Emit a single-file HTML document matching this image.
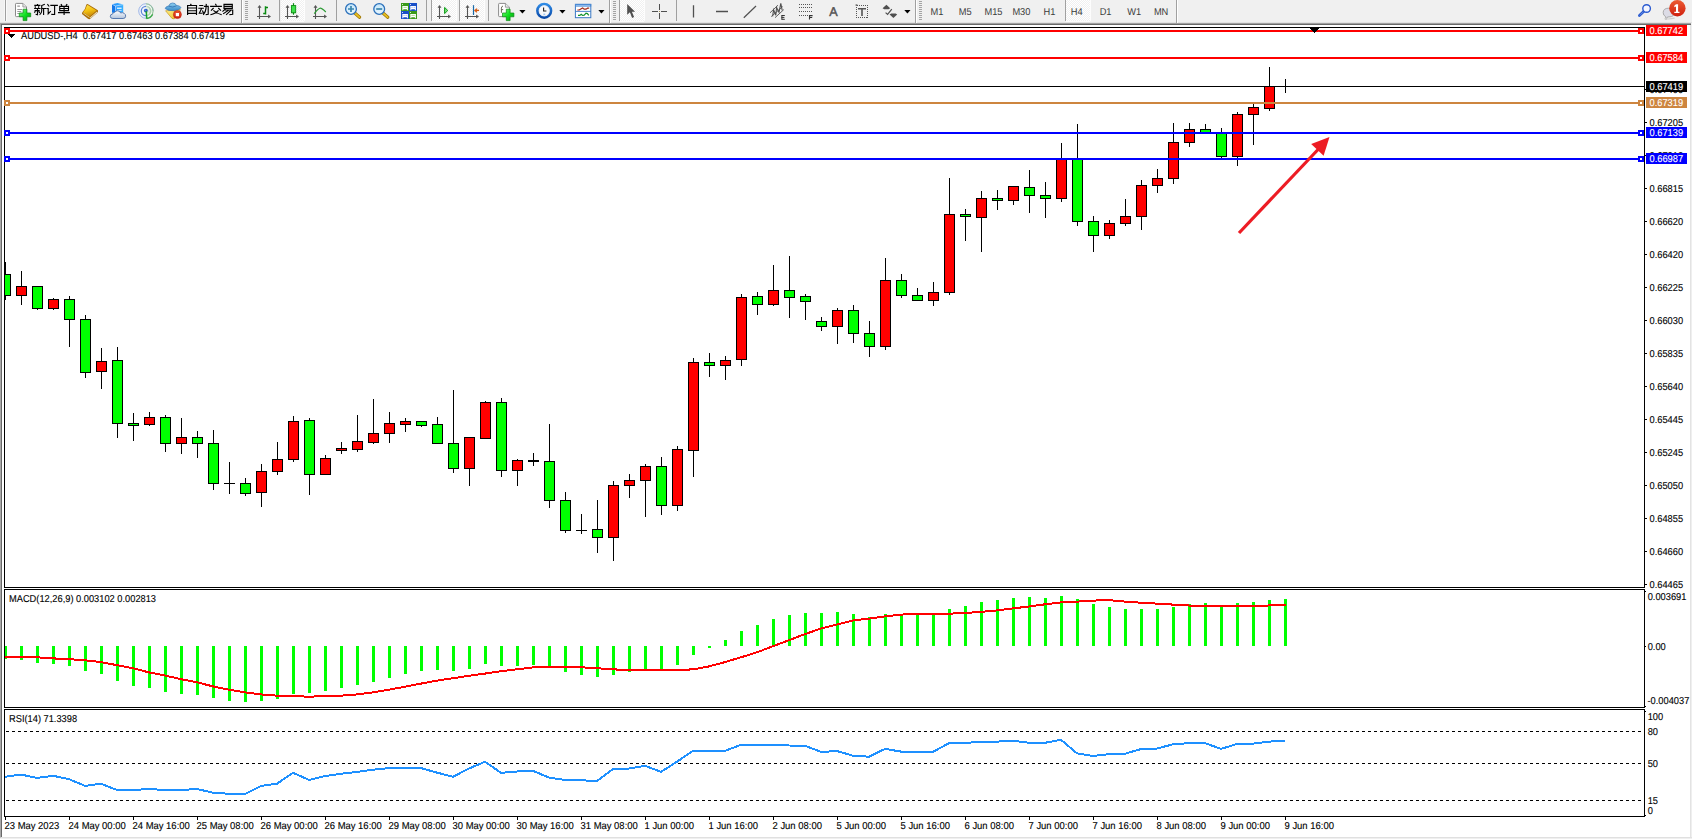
<!DOCTYPE html>
<html><head><meta charset="utf-8"><title>AUDUSD H4</title>
<style>
html,body{margin:0;padding:0;background:#fff;}
body{width:1692px;height:839px;overflow:hidden;position:relative;font-family:"Liberation Sans",sans-serif;}
svg{position:absolute;left:0;top:0;display:block}
#tb{position:absolute;left:0;top:0;width:1692px;height:25px;background:#f0f0f0;}
</style></head><body>
<div id="tb"></div>
<svg id="chart" width="1692" height="839" viewBox="0 0 1692 839" shape-rendering="crispEdges">
<rect x="0" y="25" width="1692" height="814" fill="#ffffff"/>
<rect x="0" y="23" width="1" height="814" fill="#a8a8a8"/>
<rect x="1" y="24" width="1" height="813" fill="#696969"/>
<rect x="1690" y="25" width="1" height="814" fill="#e3e3e3"/>
<rect x="1691" y="25" width="1" height="814" fill="#efefef"/>
<rect x="0" y="837" width="1692" height="1" fill="#e0e0e0"/>
<rect x="0" y="838" width="1692" height="1" fill="#efefef"/>
<rect x="0" y="837" width="1" height="1" fill="#c4c4c4"/>
<rect x="4" y="27" width="1641" height="1" fill="#000"/>
<rect x="4" y="27" width="1" height="790" fill="#000"/>
<rect x="1644" y="27" width="1" height="790" fill="#000"/>
<rect x="4" y="587" width="1641" height="1" fill="#000"/>
<rect x="4" y="589" width="1641" height="1" fill="#000"/>
<rect x="4" y="707" width="1641" height="1" fill="#000"/>
<rect x="4" y="709" width="1641" height="1" fill="#000"/>
<rect x="4" y="816" width="1641" height="1" fill="#000"/>
<rect x="4" y="588" width="1641" height="1" fill="#fff"/>
<rect x="4" y="708" width="1641" height="1" fill="#fff"/>
<rect x="1645" y="815" width="1" height="1" fill="#000"/>
<clipPath id="cm"><rect x="5" y="28" width="1639" height="559"/></clipPath><g clip-path="url(#cm)">
<rect x="5" y="262" width="1" height="38" fill="#000"/>
<rect x="0" y="274" width="11" height="22" fill="#000"/>
<rect x="1" y="275" width="9" height="20" fill="#00ff00"/>
<rect x="21" y="271" width="1" height="34" fill="#000"/>
<rect x="16" y="286" width="11" height="10" fill="#000"/>
<rect x="17" y="287" width="9" height="8" fill="#ff0000"/>
<rect x="37" y="286" width="1" height="24" fill="#000"/>
<rect x="32" y="286" width="11" height="23" fill="#000"/>
<rect x="33" y="287" width="9" height="21" fill="#00ff00"/>
<rect x="53" y="298" width="1" height="12" fill="#000"/>
<rect x="48" y="299" width="11" height="10" fill="#000"/>
<rect x="49" y="300" width="9" height="8" fill="#ff0000"/>
<rect x="69" y="296" width="1" height="51" fill="#000"/>
<rect x="64" y="299" width="11" height="21" fill="#000"/>
<rect x="65" y="300" width="9" height="19" fill="#00ff00"/>
<rect x="85" y="315" width="1" height="63" fill="#000"/>
<rect x="80" y="319" width="11" height="54" fill="#000"/>
<rect x="81" y="320" width="9" height="52" fill="#00ff00"/>
<rect x="101" y="348" width="1" height="41" fill="#000"/>
<rect x="96" y="361" width="11" height="11" fill="#000"/>
<rect x="97" y="362" width="9" height="9" fill="#ff0000"/>
<rect x="117" y="347" width="1" height="91" fill="#000"/>
<rect x="112" y="360" width="11" height="64" fill="#000"/>
<rect x="113" y="361" width="9" height="62" fill="#00ff00"/>
<rect x="133" y="413" width="1" height="28" fill="#000"/>
<rect x="128" y="423" width="11" height="3" fill="#000"/>
<rect x="129" y="424" width="9" height="1" fill="#00ff00"/>
<rect x="149" y="412" width="1" height="14" fill="#000"/>
<rect x="144" y="417" width="11" height="8" fill="#000"/>
<rect x="145" y="418" width="9" height="6" fill="#ff0000"/>
<rect x="165" y="415" width="1" height="37" fill="#000"/>
<rect x="160" y="417" width="11" height="27" fill="#000"/>
<rect x="161" y="418" width="9" height="25" fill="#00ff00"/>
<rect x="181" y="418" width="1" height="36" fill="#000"/>
<rect x="176" y="437" width="11" height="7" fill="#000"/>
<rect x="177" y="438" width="9" height="5" fill="#ff0000"/>
<rect x="197" y="431" width="1" height="27" fill="#000"/>
<rect x="192" y="437" width="11" height="7" fill="#000"/>
<rect x="193" y="438" width="9" height="5" fill="#00ff00"/>
<rect x="213" y="430" width="1" height="60" fill="#000"/>
<rect x="208" y="443" width="11" height="41" fill="#000"/>
<rect x="209" y="444" width="9" height="39" fill="#00ff00"/>
<rect x="229" y="462" width="1" height="32" fill="#000"/>
<rect x="224" y="483" width="11" height="1" fill="#000"/>
<rect x="245" y="478" width="1" height="18" fill="#000"/>
<rect x="240" y="483" width="11" height="11" fill="#000"/>
<rect x="241" y="484" width="9" height="9" fill="#00ff00"/>
<rect x="261" y="464" width="1" height="43" fill="#000"/>
<rect x="256" y="471" width="11" height="22" fill="#000"/>
<rect x="257" y="472" width="9" height="20" fill="#ff0000"/>
<rect x="277" y="442" width="1" height="33" fill="#000"/>
<rect x="272" y="459" width="11" height="13" fill="#000"/>
<rect x="273" y="460" width="9" height="11" fill="#ff0000"/>
<rect x="293" y="416" width="1" height="46" fill="#000"/>
<rect x="288" y="421" width="11" height="39" fill="#000"/>
<rect x="289" y="422" width="9" height="37" fill="#ff0000"/>
<rect x="309" y="418" width="1" height="77" fill="#000"/>
<rect x="304" y="420" width="11" height="55" fill="#000"/>
<rect x="305" y="421" width="9" height="53" fill="#00ff00"/>
<rect x="325" y="455" width="1" height="20" fill="#000"/>
<rect x="320" y="458" width="11" height="17" fill="#000"/>
<rect x="321" y="459" width="9" height="15" fill="#ff0000"/>
<rect x="341" y="442" width="1" height="12" fill="#000"/>
<rect x="336" y="448" width="11" height="3" fill="#000"/>
<rect x="337" y="449" width="9" height="1" fill="#ff0000"/>
<rect x="357" y="415" width="1" height="37" fill="#000"/>
<rect x="352" y="441" width="11" height="9" fill="#000"/>
<rect x="353" y="442" width="9" height="7" fill="#ff0000"/>
<rect x="373" y="399" width="1" height="45" fill="#000"/>
<rect x="368" y="433" width="11" height="10" fill="#000"/>
<rect x="369" y="434" width="9" height="8" fill="#ff0000"/>
<rect x="389" y="412" width="1" height="31" fill="#000"/>
<rect x="384" y="423" width="11" height="11" fill="#000"/>
<rect x="385" y="424" width="9" height="9" fill="#ff0000"/>
<rect x="405" y="418" width="1" height="14" fill="#000"/>
<rect x="400" y="421" width="11" height="4" fill="#000"/>
<rect x="401" y="422" width="9" height="2" fill="#ff0000"/>
<rect x="421" y="421" width="1" height="6" fill="#000"/>
<rect x="416" y="421" width="11" height="5" fill="#000"/>
<rect x="417" y="422" width="9" height="3" fill="#00ff00"/>
<rect x="437" y="417" width="1" height="27" fill="#000"/>
<rect x="432" y="424" width="11" height="20" fill="#000"/>
<rect x="433" y="425" width="9" height="18" fill="#00ff00"/>
<rect x="453" y="390" width="1" height="83" fill="#000"/>
<rect x="448" y="443" width="11" height="26" fill="#000"/>
<rect x="449" y="444" width="9" height="24" fill="#00ff00"/>
<rect x="469" y="437" width="1" height="49" fill="#000"/>
<rect x="464" y="437" width="11" height="32" fill="#000"/>
<rect x="465" y="438" width="9" height="30" fill="#ff0000"/>
<rect x="485" y="401" width="1" height="38" fill="#000"/>
<rect x="480" y="402" width="11" height="37" fill="#000"/>
<rect x="481" y="403" width="9" height="35" fill="#ff0000"/>
<rect x="501" y="398" width="1" height="79" fill="#000"/>
<rect x="496" y="402" width="11" height="69" fill="#000"/>
<rect x="497" y="403" width="9" height="67" fill="#00ff00"/>
<rect x="517" y="459" width="1" height="27" fill="#000"/>
<rect x="512" y="460" width="11" height="11" fill="#000"/>
<rect x="513" y="461" width="9" height="9" fill="#ff0000"/>
<rect x="533" y="453" width="1" height="13" fill="#000"/>
<rect x="528" y="460" width="11" height="2" fill="#000"/>
<rect x="549" y="424" width="1" height="84" fill="#000"/>
<rect x="544" y="461" width="11" height="40" fill="#000"/>
<rect x="545" y="462" width="9" height="38" fill="#00ff00"/>
<rect x="565" y="492" width="1" height="41" fill="#000"/>
<rect x="560" y="500" width="11" height="31" fill="#000"/>
<rect x="561" y="501" width="9" height="29" fill="#00ff00"/>
<rect x="581" y="514" width="1" height="20" fill="#000"/>
<rect x="576" y="530" width="11" height="1" fill="#000"/>
<rect x="597" y="500" width="1" height="53" fill="#000"/>
<rect x="592" y="529" width="11" height="9" fill="#000"/>
<rect x="593" y="530" width="9" height="7" fill="#00ff00"/>
<rect x="613" y="481" width="1" height="80" fill="#000"/>
<rect x="608" y="485" width="11" height="53" fill="#000"/>
<rect x="609" y="486" width="9" height="51" fill="#ff0000"/>
<rect x="629" y="474" width="1" height="24" fill="#000"/>
<rect x="624" y="480" width="11" height="6" fill="#000"/>
<rect x="625" y="481" width="9" height="4" fill="#ff0000"/>
<rect x="645" y="464" width="1" height="53" fill="#000"/>
<rect x="640" y="466" width="11" height="15" fill="#000"/>
<rect x="641" y="467" width="9" height="13" fill="#ff0000"/>
<rect x="661" y="457" width="1" height="58" fill="#000"/>
<rect x="656" y="466" width="11" height="40" fill="#000"/>
<rect x="657" y="467" width="9" height="38" fill="#00ff00"/>
<rect x="677" y="446" width="1" height="65" fill="#000"/>
<rect x="672" y="449" width="11" height="57" fill="#000"/>
<rect x="673" y="450" width="9" height="55" fill="#ff0000"/>
<rect x="693" y="358" width="1" height="119" fill="#000"/>
<rect x="688" y="362" width="11" height="89" fill="#000"/>
<rect x="689" y="363" width="9" height="87" fill="#ff0000"/>
<rect x="709" y="353" width="1" height="24" fill="#000"/>
<rect x="704" y="362" width="11" height="4" fill="#000"/>
<rect x="705" y="363" width="9" height="2" fill="#00ff00"/>
<rect x="725" y="356" width="1" height="24" fill="#000"/>
<rect x="720" y="360" width="11" height="6" fill="#000"/>
<rect x="721" y="361" width="9" height="4" fill="#ff0000"/>
<rect x="741" y="294" width="1" height="72" fill="#000"/>
<rect x="736" y="297" width="11" height="63" fill="#000"/>
<rect x="737" y="298" width="9" height="61" fill="#ff0000"/>
<rect x="757" y="292" width="1" height="23" fill="#000"/>
<rect x="752" y="296" width="11" height="9" fill="#000"/>
<rect x="753" y="297" width="9" height="7" fill="#00ff00"/>
<rect x="773" y="265" width="1" height="41" fill="#000"/>
<rect x="768" y="290" width="11" height="15" fill="#000"/>
<rect x="769" y="291" width="9" height="13" fill="#ff0000"/>
<rect x="789" y="256" width="1" height="62" fill="#000"/>
<rect x="784" y="290" width="11" height="8" fill="#000"/>
<rect x="785" y="291" width="9" height="6" fill="#00ff00"/>
<rect x="805" y="294" width="1" height="26" fill="#000"/>
<rect x="800" y="296" width="11" height="6" fill="#000"/>
<rect x="801" y="297" width="9" height="4" fill="#00ff00"/>
<rect x="821" y="317" width="1" height="14" fill="#000"/>
<rect x="816" y="321" width="11" height="6" fill="#000"/>
<rect x="817" y="322" width="9" height="4" fill="#00ff00"/>
<rect x="837" y="308" width="1" height="36" fill="#000"/>
<rect x="832" y="310" width="11" height="17" fill="#000"/>
<rect x="833" y="311" width="9" height="15" fill="#ff0000"/>
<rect x="853" y="305" width="1" height="38" fill="#000"/>
<rect x="848" y="310" width="11" height="24" fill="#000"/>
<rect x="849" y="311" width="9" height="22" fill="#00ff00"/>
<rect x="869" y="321" width="1" height="36" fill="#000"/>
<rect x="864" y="333" width="11" height="14" fill="#000"/>
<rect x="865" y="334" width="9" height="12" fill="#00ff00"/>
<rect x="885" y="258" width="1" height="92" fill="#000"/>
<rect x="880" y="280" width="11" height="67" fill="#000"/>
<rect x="881" y="281" width="9" height="65" fill="#ff0000"/>
<rect x="901" y="274" width="1" height="24" fill="#000"/>
<rect x="896" y="280" width="11" height="16" fill="#000"/>
<rect x="897" y="281" width="9" height="14" fill="#00ff00"/>
<rect x="917" y="288" width="1" height="13" fill="#000"/>
<rect x="912" y="295" width="11" height="6" fill="#000"/>
<rect x="913" y="296" width="9" height="4" fill="#00ff00"/>
<rect x="933" y="282" width="1" height="24" fill="#000"/>
<rect x="928" y="292" width="11" height="9" fill="#000"/>
<rect x="929" y="293" width="9" height="7" fill="#ff0000"/>
<rect x="949" y="178" width="1" height="117" fill="#000"/>
<rect x="944" y="214" width="11" height="79" fill="#000"/>
<rect x="945" y="215" width="9" height="77" fill="#ff0000"/>
<rect x="965" y="209" width="1" height="32" fill="#000"/>
<rect x="960" y="214" width="11" height="3" fill="#000"/>
<rect x="961" y="215" width="9" height="1" fill="#00ff00"/>
<rect x="981" y="191" width="1" height="61" fill="#000"/>
<rect x="976" y="198" width="11" height="20" fill="#000"/>
<rect x="977" y="199" width="9" height="18" fill="#ff0000"/>
<rect x="997" y="190" width="1" height="20" fill="#000"/>
<rect x="992" y="198" width="11" height="3" fill="#000"/>
<rect x="993" y="199" width="9" height="1" fill="#00ff00"/>
<rect x="1013" y="186" width="1" height="19" fill="#000"/>
<rect x="1008" y="186" width="11" height="15" fill="#000"/>
<rect x="1009" y="187" width="9" height="13" fill="#ff0000"/>
<rect x="1029" y="170" width="1" height="43" fill="#000"/>
<rect x="1024" y="187" width="11" height="9" fill="#000"/>
<rect x="1025" y="188" width="9" height="7" fill="#00ff00"/>
<rect x="1045" y="182" width="1" height="36" fill="#000"/>
<rect x="1040" y="195" width="11" height="4" fill="#000"/>
<rect x="1041" y="196" width="9" height="2" fill="#00ff00"/>
<rect x="1061" y="143" width="1" height="59" fill="#000"/>
<rect x="1056" y="158" width="11" height="41" fill="#000"/>
<rect x="1057" y="159" width="9" height="39" fill="#ff0000"/>
<rect x="1077" y="124" width="1" height="102" fill="#000"/>
<rect x="1072" y="158" width="11" height="64" fill="#000"/>
<rect x="1073" y="159" width="9" height="62" fill="#00ff00"/>
<rect x="1093" y="216" width="1" height="36" fill="#000"/>
<rect x="1088" y="221" width="11" height="15" fill="#000"/>
<rect x="1089" y="222" width="9" height="13" fill="#00ff00"/>
<rect x="1109" y="220" width="1" height="19" fill="#000"/>
<rect x="1104" y="223" width="11" height="13" fill="#000"/>
<rect x="1105" y="224" width="9" height="11" fill="#ff0000"/>
<rect x="1125" y="199" width="1" height="27" fill="#000"/>
<rect x="1120" y="216" width="11" height="8" fill="#000"/>
<rect x="1121" y="217" width="9" height="6" fill="#ff0000"/>
<rect x="1141" y="180" width="1" height="50" fill="#000"/>
<rect x="1136" y="185" width="11" height="32" fill="#000"/>
<rect x="1137" y="186" width="9" height="30" fill="#ff0000"/>
<rect x="1157" y="169" width="1" height="24" fill="#000"/>
<rect x="1152" y="178" width="11" height="8" fill="#000"/>
<rect x="1153" y="179" width="9" height="6" fill="#ff0000"/>
<rect x="1173" y="123" width="1" height="61" fill="#000"/>
<rect x="1168" y="142" width="11" height="37" fill="#000"/>
<rect x="1169" y="143" width="9" height="35" fill="#ff0000"/>
<rect x="1189" y="123" width="1" height="24" fill="#000"/>
<rect x="1184" y="129" width="11" height="14" fill="#000"/>
<rect x="1185" y="130" width="9" height="12" fill="#ff0000"/>
<rect x="1205" y="124" width="1" height="9" fill="#000"/>
<rect x="1200" y="129" width="11" height="4" fill="#000"/>
<rect x="1201" y="130" width="9" height="2" fill="#00ff00"/>
<rect x="1221" y="128" width="1" height="31" fill="#000"/>
<rect x="1216" y="132" width="11" height="25" fill="#000"/>
<rect x="1217" y="133" width="9" height="23" fill="#00ff00"/>
<rect x="1237" y="112" width="1" height="54" fill="#000"/>
<rect x="1232" y="114" width="11" height="43" fill="#000"/>
<rect x="1233" y="115" width="9" height="41" fill="#ff0000"/>
<rect x="1253" y="104" width="1" height="41" fill="#000"/>
<rect x="1248" y="107" width="11" height="8" fill="#000"/>
<rect x="1249" y="108" width="9" height="6" fill="#ff0000"/>
<rect x="1269" y="67" width="1" height="44" fill="#000"/>
<rect x="1264" y="86" width="11" height="23" fill="#000"/>
<rect x="1265" y="87" width="9" height="21" fill="#ff0000"/>
<rect x="1285" y="79" width="1" height="14" fill="#000"/>
<rect x="1280" y="86" width="11" height="1" fill="#000"/>
</g>
<rect x="5" y="86" width="1639" height="1" fill="#000"/>
<rect x="5" y="30" width="1639" height="2" fill="#ff0000"/>
<rect x="4" y="28" width="6" height="6" fill="#ff0000"/>
<rect x="6" y="30" width="2" height="2" fill="#fff"/>
<rect x="1638" y="28" width="6" height="6" fill="#ff0000"/>
<rect x="1640" y="30" width="2" height="2" fill="#fff"/>
<rect x="5" y="57" width="1639" height="2" fill="#ff0000"/>
<rect x="4" y="55" width="6" height="6" fill="#ff0000"/>
<rect x="6" y="57" width="2" height="2" fill="#fff"/>
<rect x="1638" y="55" width="6" height="6" fill="#ff0000"/>
<rect x="1640" y="57" width="2" height="2" fill="#fff"/>
<rect x="5" y="102" width="1639" height="2" fill="#cd853f"/>
<rect x="4" y="100" width="6" height="6" fill="#cd853f"/>
<rect x="6" y="102" width="2" height="2" fill="#fff"/>
<rect x="1638" y="100" width="6" height="6" fill="#cd853f"/>
<rect x="1640" y="102" width="2" height="2" fill="#fff"/>
<rect x="5" y="132" width="1639" height="2" fill="#0000ff"/>
<rect x="4" y="130" width="6" height="6" fill="#0000ff"/>
<rect x="6" y="132" width="2" height="2" fill="#fff"/>
<rect x="1638" y="130" width="6" height="6" fill="#0000ff"/>
<rect x="1640" y="132" width="2" height="2" fill="#fff"/>
<rect x="5" y="158" width="1639" height="2" fill="#0000ff"/>
<rect x="4" y="156" width="6" height="6" fill="#0000ff"/>
<rect x="6" y="158" width="2" height="2" fill="#fff"/>
<rect x="1638" y="156" width="6" height="6" fill="#0000ff"/>
<rect x="1640" y="158" width="2" height="2" fill="#fff"/>
<rect x="1310" y="28" width="9" height="1" fill="#000"/>
<rect x="1311" y="29" width="7" height="1" fill="#000"/>
<rect x="1312" y="30" width="5" height="1" fill="#000"/>
<rect x="1313" y="31" width="3" height="1" fill="#000"/>
<rect x="1314" y="32" width="1" height="1" fill="#000"/>
<rect x="8" y="34" width="7" height="1" fill="#000"/>
<rect x="9" y="35" width="5" height="1" fill="#000"/>
<rect x="10" y="36" width="3" height="1" fill="#000"/>
<rect x="11" y="37" width="1" height="1" fill="#000"/>
<g shape-rendering="auto"><line x1="1239" y1="233" x2="1319" y2="148.5" stroke="#ed1c24" stroke-width="3.2"/><polygon points="1329.5,137 1311.2,144 1323.6,155.8" fill="#ed1c24"/></g>
<clipPath id="c2"><rect x="5" y="590" width="1639" height="117"/></clipPath><g clip-path="url(#c2)">
<rect x="4" y="646" width="3" height="13" fill="#00ff00"/>
<rect x="20" y="646" width="3" height="14" fill="#00ff00"/>
<rect x="36" y="646" width="3" height="17" fill="#00ff00"/>
<rect x="52" y="646" width="3" height="18" fill="#00ff00"/>
<rect x="68" y="646" width="3" height="20" fill="#00ff00"/>
<rect x="84" y="646" width="3" height="25" fill="#00ff00"/>
<rect x="100" y="646" width="3" height="28" fill="#00ff00"/>
<rect x="116" y="646" width="3" height="35" fill="#00ff00"/>
<rect x="132" y="646" width="3" height="40" fill="#00ff00"/>
<rect x="148" y="646" width="3" height="42" fill="#00ff00"/>
<rect x="164" y="646" width="3" height="46" fill="#00ff00"/>
<rect x="180" y="646" width="3" height="48" fill="#00ff00"/>
<rect x="196" y="646" width="3" height="49" fill="#00ff00"/>
<rect x="212" y="646" width="3" height="52" fill="#00ff00"/>
<rect x="228" y="646" width="3" height="55" fill="#00ff00"/>
<rect x="244" y="646" width="3" height="56" fill="#00ff00"/>
<rect x="260" y="646" width="3" height="55" fill="#00ff00"/>
<rect x="276" y="646" width="3" height="53" fill="#00ff00"/>
<rect x="292" y="646" width="3" height="48" fill="#00ff00"/>
<rect x="308" y="646" width="3" height="47" fill="#00ff00"/>
<rect x="324" y="646" width="3" height="45" fill="#00ff00"/>
<rect x="340" y="646" width="3" height="42" fill="#00ff00"/>
<rect x="356" y="646" width="3" height="39" fill="#00ff00"/>
<rect x="372" y="646" width="3" height="36" fill="#00ff00"/>
<rect x="388" y="646" width="3" height="32" fill="#00ff00"/>
<rect x="404" y="646" width="3" height="28" fill="#00ff00"/>
<rect x="420" y="646" width="3" height="25" fill="#00ff00"/>
<rect x="436" y="646" width="3" height="24" fill="#00ff00"/>
<rect x="452" y="646" width="3" height="25" fill="#00ff00"/>
<rect x="468" y="646" width="3" height="23" fill="#00ff00"/>
<rect x="484" y="646" width="3" height="18" fill="#00ff00"/>
<rect x="500" y="646" width="3" height="20" fill="#00ff00"/>
<rect x="516" y="646" width="3" height="20" fill="#00ff00"/>
<rect x="532" y="646" width="3" height="19" fill="#00ff00"/>
<rect x="548" y="646" width="3" height="21" fill="#00ff00"/>
<rect x="564" y="646" width="3" height="26" fill="#00ff00"/>
<rect x="580" y="646" width="3" height="29" fill="#00ff00"/>
<rect x="596" y="646" width="3" height="31" fill="#00ff00"/>
<rect x="612" y="646" width="3" height="29" fill="#00ff00"/>
<rect x="628" y="646" width="3" height="26" fill="#00ff00"/>
<rect x="644" y="646" width="3" height="24" fill="#00ff00"/>
<rect x="660" y="646" width="3" height="24" fill="#00ff00"/>
<rect x="676" y="646" width="3" height="19" fill="#00ff00"/>
<rect x="692" y="646" width="3" height="9" fill="#00ff00"/>
<rect x="708" y="646" width="3" height="2" fill="#00ff00"/>
<rect x="724" y="640" width="3" height="6" fill="#00ff00"/>
<rect x="740" y="631" width="3" height="15" fill="#00ff00"/>
<rect x="756" y="625" width="3" height="21" fill="#00ff00"/>
<rect x="772" y="619" width="3" height="27" fill="#00ff00"/>
<rect x="788" y="615" width="3" height="31" fill="#00ff00"/>
<rect x="804" y="613" width="3" height="33" fill="#00ff00"/>
<rect x="820" y="613" width="3" height="33" fill="#00ff00"/>
<rect x="836" y="612" width="3" height="34" fill="#00ff00"/>
<rect x="852" y="614" width="3" height="32" fill="#00ff00"/>
<rect x="868" y="617" width="3" height="29" fill="#00ff00"/>
<rect x="884" y="614" width="3" height="32" fill="#00ff00"/>
<rect x="900" y="614" width="3" height="32" fill="#00ff00"/>
<rect x="916" y="614" width="3" height="32" fill="#00ff00"/>
<rect x="932" y="614" width="3" height="32" fill="#00ff00"/>
<rect x="948" y="609" width="3" height="37" fill="#00ff00"/>
<rect x="964" y="606" width="3" height="40" fill="#00ff00"/>
<rect x="980" y="602" width="3" height="44" fill="#00ff00"/>
<rect x="996" y="600" width="3" height="46" fill="#00ff00"/>
<rect x="1012" y="598" width="3" height="48" fill="#00ff00"/>
<rect x="1028" y="597" width="3" height="49" fill="#00ff00"/>
<rect x="1044" y="598" width="3" height="48" fill="#00ff00"/>
<rect x="1060" y="596" width="3" height="50" fill="#00ff00"/>
<rect x="1076" y="599" width="3" height="47" fill="#00ff00"/>
<rect x="1092" y="604" width="3" height="42" fill="#00ff00"/>
<rect x="1108" y="607" width="3" height="39" fill="#00ff00"/>
<rect x="1124" y="609" width="3" height="37" fill="#00ff00"/>
<rect x="1140" y="609" width="3" height="37" fill="#00ff00"/>
<rect x="1156" y="609" width="3" height="37" fill="#00ff00"/>
<rect x="1172" y="607" width="3" height="39" fill="#00ff00"/>
<rect x="1188" y="604" width="3" height="42" fill="#00ff00"/>
<rect x="1204" y="603" width="3" height="43" fill="#00ff00"/>
<rect x="1220" y="606" width="3" height="40" fill="#00ff00"/>
<rect x="1236" y="603" width="3" height="43" fill="#00ff00"/>
<rect x="1252" y="602" width="3" height="44" fill="#00ff00"/>
<rect x="1268" y="600" width="3" height="46" fill="#00ff00"/>
<rect x="1284" y="599" width="3" height="47" fill="#00ff00"/>
<polyline fill="none" stroke="#ff0000" stroke-width="2" points="5,657.3 37,657.3 53,658.4 69,659.1 85,660.3 101,662.1 117,665.2 133,668.2 149,672.4 165,675.5 181,679.2 197,682.3 213,686.4 229,689.7 245,692.4 261,694.4 277,695.7 293,696.3 309,696.6 325,696.3 341,695.7 357,694.4 373,692.4 389,689.7 405,686.7 421,683.6 437,680.6 453,678.2 469,675.8 485,673.6 501,671.2 517,669.3 533,667.4 549,666.8 565,666.8 581,667.3 597,668.2 613,669.4 629,669.9 645,669.9 661,669.9 677,669.9 693,669.4 709,666.4 725,662.1 741,657.3 757,652.3 773,646.2 789,640.2 805,634.1 821,628.5 837,624.6 853,620.5 869,618.6 885,616.4 901,614.6 917,614.0 933,614.0 949,613.7 965,613.0 981,611.9 997,610.4 1013,608.4 1029,606.5 1045,604.3 1061,602.4 1077,601.6 1093,600.9 1101,599.9 1109,600.1 1125,601.6 1141,602.7 1157,603.6 1173,604.6 1189,605.5 1205,606.0 1221,606.0 1237,606.0 1253,606.0 1266,606.0 1270,604.9 1286,604.9"/>
</g>
<line x1="6" y1="731.5" x2="1644" y2="731.5" stroke="#000" stroke-width="1" stroke-dasharray="3 3"/>
<line x1="6" y1="763.5" x2="1644" y2="763.5" stroke="#000" stroke-width="1" stroke-dasharray="3 3"/>
<line x1="6" y1="800.5" x2="1644" y2="800.5" stroke="#000" stroke-width="1" stroke-dasharray="3 3"/>
<polyline fill="none" stroke="#1e90ff" stroke-width="2" points="5,776.8 21,774.6 37,777.9 53,775.8 69,779.1 85,785.9 101,783.7 117,790.0 133,790.0 149,789.0 165,790.0 181,790.0 197,789.0 213,792.7 229,793.8 245,793.9 261,785.9 277,783.7 293,772.8 309,779.9 325,776.1 341,773.8 357,771.9 373,769.7 389,768.1 405,767.8 421,768.1 437,772.6 453,776.8 469,768.5 485,761.7 501,772.8 517,771.5 533,770.8 549,777.6 565,779.9 581,780.3 597,780.9 613,769.0 629,768.5 645,765.8 661,771.9 677,761.7 693,750.8 709,750.8 725,750.8 741,744.8 757,744.8 773,744.8 789,745.5 805,745.8 821,751.9 837,751.1 853,755.7 869,756.7 885,748.9 901,751.6 917,751.9 933,751.9 949,743.1 965,743.1 981,741.6 997,741.6 1013,740.7 1029,742.8 1045,742.8 1061,739.8 1077,753.4 1093,756.0 1109,754.1 1125,753.7 1141,749.1 1157,748.5 1173,744.3 1189,743.1 1205,743.1 1221,748.9 1237,744.0 1253,743.6 1269,741.6 1285,740.7"/>
<rect x="5" y="817" width="1" height="3" fill="#000"/>
<rect x="69" y="817" width="1" height="3" fill="#000"/>
<rect x="133" y="817" width="1" height="3" fill="#000"/>
<rect x="197" y="817" width="1" height="3" fill="#000"/>
<rect x="261" y="817" width="1" height="3" fill="#000"/>
<rect x="325" y="817" width="1" height="3" fill="#000"/>
<rect x="389" y="817" width="1" height="3" fill="#000"/>
<rect x="453" y="817" width="1" height="3" fill="#000"/>
<rect x="517" y="817" width="1" height="3" fill="#000"/>
<rect x="581" y="817" width="1" height="3" fill="#000"/>
<rect x="645" y="817" width="1" height="3" fill="#000"/>
<rect x="709" y="817" width="1" height="3" fill="#000"/>
<rect x="773" y="817" width="1" height="3" fill="#000"/>
<rect x="837" y="817" width="1" height="3" fill="#000"/>
<rect x="901" y="817" width="1" height="3" fill="#000"/>
<rect x="965" y="817" width="1" height="3" fill="#000"/>
<rect x="1029" y="817" width="1" height="3" fill="#000"/>
<rect x="1093" y="817" width="1" height="3" fill="#000"/>
<rect x="1157" y="817" width="1" height="3" fill="#000"/>
<rect x="1221" y="817" width="1" height="3" fill="#000"/>
<rect x="1285" y="817" width="1" height="3" fill="#000"/>
</svg>
<svg id="txt" text-rendering="geometricPrecision" width="1692" height="839" viewBox="0 0 1692 839" style="font-family:'Liberation Sans',sans-serif;font-size:10px;letter-spacing:0px">
<text transform="translate(4.5,829) scale(0.945,1)" fill="#000" stroke="#000" stroke-width="0.12">23 May 2023</text>
<text transform="translate(68.5,829) scale(0.945,1)" fill="#000" stroke="#000" stroke-width="0.12">24 May 00:00</text>
<text transform="translate(132.5,829) scale(0.945,1)" fill="#000" stroke="#000" stroke-width="0.12">24 May 16:00</text>
<text transform="translate(196.5,829) scale(0.945,1)" fill="#000" stroke="#000" stroke-width="0.12">25 May 08:00</text>
<text transform="translate(260.5,829) scale(0.945,1)" fill="#000" stroke="#000" stroke-width="0.12">26 May 00:00</text>
<text transform="translate(324.5,829) scale(0.945,1)" fill="#000" stroke="#000" stroke-width="0.12">26 May 16:00</text>
<text transform="translate(388.5,829) scale(0.945,1)" fill="#000" stroke="#000" stroke-width="0.12">29 May 08:00</text>
<text transform="translate(452.5,829) scale(0.945,1)" fill="#000" stroke="#000" stroke-width="0.12">30 May 00:00</text>
<text transform="translate(516.5,829) scale(0.945,1)" fill="#000" stroke="#000" stroke-width="0.12">30 May 16:00</text>
<text transform="translate(580.5,829) scale(0.945,1)" fill="#000" stroke="#000" stroke-width="0.12">31 May 08:00</text>
<text transform="translate(644.5,829) scale(0.945,1)" fill="#000" stroke="#000" stroke-width="0.12">1 Jun 00:00</text>
<text transform="translate(708.5,829) scale(0.945,1)" fill="#000" stroke="#000" stroke-width="0.12">1 Jun 16:00</text>
<text transform="translate(772.5,829) scale(0.945,1)" fill="#000" stroke="#000" stroke-width="0.12">2 Jun 08:00</text>
<text transform="translate(836.5,829) scale(0.945,1)" fill="#000" stroke="#000" stroke-width="0.12">5 Jun 00:00</text>
<text transform="translate(900.5,829) scale(0.945,1)" fill="#000" stroke="#000" stroke-width="0.12">5 Jun 16:00</text>
<text transform="translate(964.5,829) scale(0.945,1)" fill="#000" stroke="#000" stroke-width="0.12">6 Jun 08:00</text>
<text transform="translate(1028.5,829) scale(0.945,1)" fill="#000" stroke="#000" stroke-width="0.12">7 Jun 00:00</text>
<text transform="translate(1092.5,829) scale(0.945,1)" fill="#000" stroke="#000" stroke-width="0.12">7 Jun 16:00</text>
<text transform="translate(1156.5,829) scale(0.945,1)" fill="#000" stroke="#000" stroke-width="0.12">8 Jun 08:00</text>
<text transform="translate(1220.5,829) scale(0.945,1)" fill="#000" stroke="#000" stroke-width="0.12">9 Jun 00:00</text>
<text transform="translate(1284.5,829) scale(0.945,1)" fill="#000" stroke="#000" stroke-width="0.12">9 Jun 16:00</text>
<text transform="translate(21,39) scale(0.928,1)" fill="#000" stroke="#000" stroke-width="0.12">AUDUSD-,H4&#160; 0.67417 0.67463 0.67384 0.67419</text>
<text transform="translate(9,602) scale(0.928,1)" fill="#000" stroke="#000" stroke-width="0.12">MACD(12,26,9) 0.003102 0.002813</text>
<text transform="translate(9,722) scale(0.928,1)" fill="#000" stroke="#000" stroke-width="0.12">RSI(14) 71.3398</text>
<rect x="1645" y="584" width="2" height="1" fill="#000" shape-rendering="crispEdges"/>
<text transform="translate(1649.5,588) scale(0.928,1)" fill="#000" stroke="#000" stroke-width="0.12">0.64465</text>
<rect x="1645" y="551" width="2" height="1" fill="#000" shape-rendering="crispEdges"/>
<text transform="translate(1649.5,555) scale(0.928,1)" fill="#000" stroke="#000" stroke-width="0.12">0.64660</text>
<rect x="1645" y="518" width="2" height="1" fill="#000" shape-rendering="crispEdges"/>
<text transform="translate(1649.5,522) scale(0.928,1)" fill="#000" stroke="#000" stroke-width="0.12">0.64855</text>
<rect x="1645" y="485" width="2" height="1" fill="#000" shape-rendering="crispEdges"/>
<text transform="translate(1649.5,489) scale(0.928,1)" fill="#000" stroke="#000" stroke-width="0.12">0.65050</text>
<rect x="1645" y="452" width="2" height="1" fill="#000" shape-rendering="crispEdges"/>
<text transform="translate(1649.5,456) scale(0.928,1)" fill="#000" stroke="#000" stroke-width="0.12">0.65245</text>
<rect x="1645" y="419" width="2" height="1" fill="#000" shape-rendering="crispEdges"/>
<text transform="translate(1649.5,423) scale(0.928,1)" fill="#000" stroke="#000" stroke-width="0.12">0.65445</text>
<rect x="1645" y="386" width="2" height="1" fill="#000" shape-rendering="crispEdges"/>
<text transform="translate(1649.5,390) scale(0.928,1)" fill="#000" stroke="#000" stroke-width="0.12">0.65640</text>
<rect x="1645" y="353" width="2" height="1" fill="#000" shape-rendering="crispEdges"/>
<text transform="translate(1649.5,357) scale(0.928,1)" fill="#000" stroke="#000" stroke-width="0.12">0.65835</text>
<rect x="1645" y="320" width="2" height="1" fill="#000" shape-rendering="crispEdges"/>
<text transform="translate(1649.5,324) scale(0.928,1)" fill="#000" stroke="#000" stroke-width="0.12">0.66030</text>
<rect x="1645" y="287" width="2" height="1" fill="#000" shape-rendering="crispEdges"/>
<text transform="translate(1649.5,291) scale(0.928,1)" fill="#000" stroke="#000" stroke-width="0.12">0.66225</text>
<rect x="1645" y="254" width="2" height="1" fill="#000" shape-rendering="crispEdges"/>
<text transform="translate(1649.5,258) scale(0.928,1)" fill="#000" stroke="#000" stroke-width="0.12">0.66420</text>
<rect x="1645" y="221" width="2" height="1" fill="#000" shape-rendering="crispEdges"/>
<text transform="translate(1649.5,225) scale(0.928,1)" fill="#000" stroke="#000" stroke-width="0.12">0.66620</text>
<rect x="1645" y="188" width="2" height="1" fill="#000" shape-rendering="crispEdges"/>
<text transform="translate(1649.5,192) scale(0.928,1)" fill="#000" stroke="#000" stroke-width="0.12">0.66815</text>
<rect x="1645" y="155" width="2" height="1" fill="#000" shape-rendering="crispEdges"/>
<text transform="translate(1649.5,159) scale(0.928,1)" fill="#000" stroke="#000" stroke-width="0.12">0.67010</text>
<rect x="1645" y="122" width="2" height="1" fill="#000" shape-rendering="crispEdges"/>
<text transform="translate(1649.5,126) scale(0.928,1)" fill="#000" stroke="#000" stroke-width="0.12">0.67205</text>
<rect x="1645" y="89" width="2" height="1" fill="#000" shape-rendering="crispEdges"/>
<text transform="translate(1649.5,93) scale(0.928,1)" fill="#000" stroke="#000" stroke-width="0.12">0.67400</text>
<rect x="1646" y="25" width="41" height="11" fill="#ff0000" shape-rendering="crispEdges"/>
<text transform="translate(1649.5,34) scale(0.928,1)" fill="#fff" stroke="#fff" stroke-width="0.12">0.67742</text>
<rect x="1646" y="52" width="41" height="11" fill="#ff0000" shape-rendering="crispEdges"/>
<text transform="translate(1649.5,61) scale(0.928,1)" fill="#fff" stroke="#fff" stroke-width="0.12">0.67584</text>
<rect x="1646" y="81" width="41" height="11" fill="#000" shape-rendering="crispEdges"/>
<text transform="translate(1649.5,90) scale(0.928,1)" fill="#fff" stroke="#fff" stroke-width="0.12">0.67419</text>
<rect x="1646" y="97" width="41" height="11" fill="#cd853f" shape-rendering="crispEdges"/>
<text transform="translate(1649.5,106) scale(0.928,1)" fill="#fff" stroke="#fff" stroke-width="0.12">0.67319</text>
<rect x="1646" y="127" width="41" height="11" fill="#0000ff" shape-rendering="crispEdges"/>
<text transform="translate(1649.5,136) scale(0.928,1)" fill="#fff" stroke="#fff" stroke-width="0.12">0.67139</text>
<rect x="1646" y="153" width="41" height="11" fill="#0000ff" shape-rendering="crispEdges"/>
<text transform="translate(1649.5,162) scale(0.928,1)" fill="#fff" stroke="#fff" stroke-width="0.12">0.66987</text>
<rect x="1645" y="591" width="1" height="1" fill="#000" shape-rendering="crispEdges"/>
<rect x="1645" y="646" width="1" height="1" fill="#000" shape-rendering="crispEdges"/>
<rect x="1645" y="706" width="1" height="1" fill="#000" shape-rendering="crispEdges"/>
<rect x="1645" y="711" width="1" height="1" fill="#000" shape-rendering="crispEdges"/>
<text transform="translate(1647.7,600) scale(0.928,1)" fill="#000" stroke="#000" stroke-width="0.12">0.003691</text>
<text transform="translate(1647.7,650) scale(0.928,1)" fill="#000" stroke="#000" stroke-width="0.12">0.00</text>
<text transform="translate(1647.5,704) scale(0.928,1)" fill="#000" stroke="#000" stroke-width="0.12">-0.004037</text>
<text transform="translate(1647.7,720) scale(0.928,1)" fill="#000" stroke="#000" stroke-width="0.12">100</text>
<text transform="translate(1647.7,735) scale(0.928,1)" fill="#000" stroke="#000" stroke-width="0.12">80</text>
<text transform="translate(1647.7,767) scale(0.928,1)" fill="#000" stroke="#000" stroke-width="0.12">50</text>
<text transform="translate(1647.7,804) scale(0.928,1)" fill="#000" stroke="#000" stroke-width="0.12">15</text>
<text transform="translate(1647.7,814) scale(0.928,1)" fill="#000" stroke="#000" stroke-width="0.12">0</text>
</svg>
<svg id="tbs" width="1692" height="25" viewBox="0 0 1692 25" text-rendering="geometricPrecision" style="font-family:'Liberation Sans',sans-serif">
<defs>
<pattern id="ck" width="2" height="2" patternUnits="userSpaceOnUse"><rect width="2" height="2" fill="#f0f0f0"/><rect width="1" height="1" fill="#fff"/><rect x="1" y="1" width="1" height="1" fill="#fff"/></pattern>
<linearGradient id="gpl" x1="0" y1="0" x2="1" y2="1"><stop offset="0" stop-color="#7dff7d"/><stop offset="0.5" stop-color="#10e020"/><stop offset="1" stop-color="#079a10"/></linearGradient>
<linearGradient id="gbook" x1="0" y1="0" x2="0.3" y2="1"><stop offset="0" stop-color="#ffe24a"/><stop offset="0.55" stop-color="#f2c010"/><stop offset="1" stop-color="#c98a0a"/></linearGradient>
<linearGradient id="gcloud" x1="0" y1="0" x2="0" y2="1"><stop offset="0" stop-color="#ffffff"/><stop offset="1" stop-color="#b4c4dc"/></linearGradient>
<linearGradient id="gbox" x1="0" y1="0" x2="1" y2="0"><stop offset="0" stop-color="#1e90ff"/><stop offset="1" stop-color="#38b0ff"/></linearGradient>
<linearGradient id="glens" x1="0" y1="0" x2="0" y2="1"><stop offset="0" stop-color="#c4e6fa"/><stop offset="1" stop-color="#eaf7ff"/></linearGradient>
<linearGradient id="gred" x1="0" y1="0" x2="0" y2="1"><stop offset="0" stop-color="#ec5a32"/><stop offset="1" stop-color="#cf1f0e"/></linearGradient>
<linearGradient id="gclock" x1="0" y1="0" x2="0" y2="1"><stop offset="0" stop-color="#2f8be6"/><stop offset="1" stop-color="#0a4aa8"/></linearGradient>
<linearGradient id="ghat" x1="0" y1="0" x2="0" y2="1"><stop offset="0" stop-color="#8fd0f0"/><stop offset="1" stop-color="#3a8ac8"/></linearGradient>
<radialGradient id="gsig" cx="0" cy="0.5" r="1"><stop offset="0" stop-color="#dfeee0"/><stop offset="0.6" stop-color="#a9cfac"/><stop offset="1" stop-color="#7fb886"/></radialGradient><linearGradient id="gface" x1="0" y1="0" x2="1" y2="1"><stop offset="0" stop-color="#fff08a"/><stop offset="1" stop-color="#e8b820"/></linearGradient>
<g id="axes"><path d="M2.5 2V15M0 12.5H12.5" fill="none" stroke="#555" stroke-width="1.1"/><path d="M2.5 0.9L4.5 3.8H0.5ZM14 12.5L11.1 14.5V10.5Z" fill="#555"/></g>
<path id="dd" d="M0.3 -0.1h6.2l-3.1 3.5z" fill="#000"/>
</defs>
<g shape-rendering="crispEdges">
<rect x="0" y="0" width="1692" height="22" fill="#f0f0f0"/>
<rect x="0" y="22" width="1692" height="1" fill="#e2e2e2"/>
<rect x="0" y="23" width="1691" height="1" fill="#a0a0a0"/>
<rect x="1" y="24" width="1690" height="1" fill="#696969"/><rect x="0" y="24" width="1" height="1" fill="#a0a0a0"/>
<!-- separators -->
<rect x="5" y="0" width="1" height="21" fill="#a0a0a0"/><rect x="6" y="0" width="1" height="21" fill="#fafafa"/><rect x="4" y="0" width="1" height="21" fill="#f7f7f7"/>
<g fill="#a0a0a0">
<rect x="241" y="0" width="1" height="23"/><rect x="609" y="0" width="1" height="23"/><rect x="915" y="0" width="1" height="23"/><rect x="1176" y="0" width="1" height="23"/>
<rect x="279" y="0" width="1" height="21"/><rect x="336" y="0" width="1" height="21"/><rect x="426" y="0" width="1" height="21"/><rect x="488" y="0" width="1" height="21"/><rect x="676" y="0" width="1" height="21"/>
</g>
<g fill="#fff"><rect x="242" y="0" width="1" height="23"/><rect x="610" y="0" width="1" height="23"/><rect x="916" y="0" width="1" height="23"/><rect x="1177" y="0" width="1" height="23"/></g>
<!-- grips -->
<g fill="#a4a4a4">
<rect x="245" y="1" width="3" height="1"/>
<rect x="245" y="3" width="3" height="1"/>
<rect x="245" y="5" width="3" height="1"/>
<rect x="245" y="7" width="3" height="1"/>
<rect x="245" y="9" width="3" height="1"/>
<rect x="245" y="11" width="3" height="1"/>
<rect x="245" y="13" width="3" height="1"/>
<rect x="245" y="15" width="3" height="1"/>
<rect x="245" y="17" width="3" height="1"/>
<rect x="245" y="19" width="3" height="1"/>
<rect x="613" y="1" width="3" height="1"/>
<rect x="613" y="3" width="3" height="1"/>
<rect x="613" y="5" width="3" height="1"/>
<rect x="613" y="7" width="3" height="1"/>
<rect x="613" y="9" width="3" height="1"/>
<rect x="613" y="11" width="3" height="1"/>
<rect x="613" y="13" width="3" height="1"/>
<rect x="613" y="15" width="3" height="1"/>
<rect x="613" y="17" width="3" height="1"/>
<rect x="613" y="19" width="3" height="1"/>
<rect x="919" y="1" width="3" height="1"/>
<rect x="919" y="3" width="3" height="1"/>
<rect x="919" y="5" width="3" height="1"/>
<rect x="919" y="7" width="3" height="1"/>
<rect x="919" y="9" width="3" height="1"/>
<rect x="919" y="11" width="3" height="1"/>
<rect x="919" y="13" width="3" height="1"/>
<rect x="919" y="15" width="3" height="1"/>
<rect x="919" y="17" width="3" height="1"/>
<rect x="919" y="19" width="3" height="1"/>
</g>
<rect x="281" y="0" width="23" height="21" fill="url(#ck)"/>
<rect x="304" y="0" width="1" height="21" fill="#fdfdfd"/><rect x="281" y="21" width="23" height="1" fill="#fdfdfd"/>
<rect x="432" y="0" width="24" height="21" fill="url(#ck)"/>
<rect x="431" y="0" width="1" height="21" fill="#a0a0a0"/>
<rect x="456" y="0" width="1" height="21" fill="#fdfdfd"/><rect x="432" y="21" width="24" height="1" fill="#fdfdfd"/>
<rect x="460" y="0" width="24" height="21" fill="url(#ck)"/>
<rect x="459" y="0" width="1" height="21" fill="#a0a0a0"/>
<rect x="484" y="0" width="1" height="21" fill="#fdfdfd"/><rect x="460" y="21" width="24" height="1" fill="#fdfdfd"/>
<rect x="620" y="0" width="24" height="21" fill="url(#ck)"/>
<rect x="619" y="0" width="1" height="21" fill="#a0a0a0"/>
<rect x="644" y="0" width="1" height="21" fill="#fdfdfd"/><rect x="620" y="21" width="24" height="1" fill="#fdfdfd"/>
<rect x="1066" y="0" width="24" height="21" fill="url(#ck)"/>
<rect x="1065" y="0" width="1" height="21" fill="#a0a0a0"/>
<rect x="1090" y="0" width="1" height="21" fill="#fdfdfd"/><rect x="1066" y="21" width="24" height="1" fill="#fdfdfd"/>
</g>
<!-- new order icon -->
<g>
<path d="M15.5 4.2q0-0.8 0.8-0.8h6.6l3.6 3.6v8.8q0 0.8-0.8 0.8h-9.4q-0.8 0-0.8-0.8z" fill="#fff" stroke="#8a8a8a" stroke-width="1"/>
<path d="M22.9 3.4v3.6h3.6" fill="#e8e8e8" stroke="#8a8a8a" stroke-width="0.8"/>
<rect x="17.3" y="5.5" width="2.6" height="1.3" fill="#9a9a9a"/>
<path d="M17.3 9.5h5M17.3 11.5h4M17.3 13.5h2" stroke="#9a9a9a" stroke-width="1"/>
<path d="M23.1 9.2h3.8v3.8h3.8v3.8h-3.8v3.8h-3.8v-3.8h-3.8v-3.8h3.8z" fill="url(#gpl)" stroke="#0a8a12" stroke-width="0.7"/>
</g>
<!-- book -->
<g>
<path d="M87.6 3.9L97.9 10.3Q98.4 11.6 97.4 12.8L90 19Q89 19.4 88 18.8L82 14Q81.8 12.8 82.8 11.8Q85.4 9 86.4 4.4Z" fill="#a86c08"/>
<path d="M90 17.4L97 11.4L97.3 12.5L90.2 18.4Z" fill="#efe6c0"/>
<path d="M87.6 5L96.6 10.6L89.6 16.7L83.2 12.3Q85.9 9.3 87 5.2Z" fill="url(#gbook)"/>
<path d="M83.2 12.9L89.6 17.4" fill="none" stroke="#f8e9a8" stroke-width="0.7"/>
</g>
<!-- cloud box -->
<g>
<path d="M112 4.2L117.5 3.1L123.2 4.6V12.4H112Z" fill="url(#gbox)"/>
<path d="M112 4.2L115.6 6V12.4H112Z" fill="#1578e8"/>
<path d="M112 4.2L115.6 6L123.2 4.6" fill="none" stroke="#cfeaff" stroke-width="0.7"/>
<path d="M115.6 6V12" stroke="#cfeaff" stroke-width="0.7"/>
<rect x="117" y="7.6" width="4.6" height="1.3" fill="#e6f4ff"/><rect x="117" y="10" width="4.6" height="0.9" fill="#bfe0ff"/>
<path d="M112.8 18.5q-2.5 0-2.5-2.2q0-2.1 2.2-2.2q0.3-1.8 2.3-1.9q1-1.5 3-1.4q2.2 0.2 2.8 2.2q1.8-0.8 3.4 0.2q1.8 1.2 1.7 3q-0.2 2.3-2.6 2.3z" fill="url(#gcloud)" stroke="#4a6ea8" stroke-width="0.9"/>
</g>
<!-- signal -->
<g fill="none">
<path d="M146 3.4A7.6 7.6 0 0 1 146 18.6Z" fill="url(#gsig)" stroke="none"/>
<path d="M146 3.4A7.6 7.6 0 0 0 146 18.6Z" fill="#eef2fa" stroke="none"/>
<path d="M146 5A6 6 0 0 1 146 17" stroke="#f4f8f4" stroke-width="1.1"/>
<path d="M146 7.7A3.3 3.3 0 0 1 146 14.3" stroke="#f4f8f4" stroke-width="1"/>
<path d="M146 3.7A7.3 7.3 0 0 0 146 18.3" stroke="#9fb6e6" stroke-width="1"/>
<path d="M146 6.3A4.7 4.7 0 0 0 146 15.7" stroke="#5c84d8" stroke-width="1.2"/>
<path d="M146 3.7A7.3 7.3 0 0 1 153.3 11" stroke="#8fb8a8" stroke-width="0.9"/>
<circle cx="145.8" cy="10.6" r="1.9" fill="#2a5cc8" stroke="none"/>
<circle cx="145.5" cy="10.2" r="0.8" fill="#5a8ae8" stroke="none"/>
<path d="M146.3 11.2L146.7 18.7" stroke="#18a028" stroke-width="1.5"/>
<path d="M146.6 18.5Q150.6 18.3 152.7 14.4" stroke="#3aa848" stroke-width="1.3"/>
</g>
<!-- autotrading icon -->
<g>
<path d="M165.6 10.8L180.4 9.6L174.6 18.6Q173 19.2 171.8 18.2Z" fill="url(#gface)" stroke="#c89a18" stroke-width="0.7"/>
<path d="M165.2 8.6Q165.6 6.4 169 5.8Q169.6 3 172.6 3Q175.6 3 176.4 5.4Q180.4 5.6 180.8 7.6Q180.6 9.8 175 10.6Q168.6 11.4 165.2 8.6Z" fill="url(#ghat)" stroke="#3a78b8" stroke-width="0.7"/>
<path d="M168.8 6.2Q172.6 8 176.6 5.8" fill="none" stroke="#2f6eb0" stroke-width="0.8"/>
<circle cx="177.4" cy="14.6" r="4" fill="url(#gred)" stroke="#b81c0c" stroke-width="0.6"/>
<rect x="175.8" y="13" width="3.2" height="3.2" fill="#fff"/>
</g>
<!-- chinese text as strokes -->
<g fill="none" stroke="#000" stroke-width="1.15" stroke-linecap="butt">
<!-- xin -->
<path d="M37.5 3.9V5M34.3 5.4H40.4M35 6.3L35.5 7.7M38.9 6.3L38.4 7.7M34.1 8.5H40.6M34.6 10.65H39.7M37.5 8.5V14.7L35.6 14.3M35.4 11.3L34.3 12.7M38.7 11.3L39.8 12.8"/>
<path d="M44.8 4.2L41.7 5.6V11Q41.6 13.2 39.6 14.7M41.6 8.5H46M43.6 8.5V15"/>
<!-- ding -->
<path d="M47.4 4.2L49.2 6.5M46.3 8.5H48.2V13.9L50.8 11.2M50.3 5.4H57.9M54.6 5.4V14.5L51.3 14.4"/>
<!-- dan -->
<path d="M60.9 4.1L62 5.7M67.2 4.1L65.9 5.7M59.7 6.4H68.5V10.65H59.7ZM59.7 8.5H68.5M64.1 6.4V15.1M58 12.56H69.9"/>
<!-- zi -->
<path d="M191.3 3.9L190.4 5.2M187.6 15.1V5.5H196.5V15.1M187.6 8H196.5M187.6 10.7H196.5M187.6 13.4H196.5"/>
<!-- dong -->
<path d="M199.2 5.5H203.3M198.3 8.2H203.9M201.6 8.4L199.3 13.2L202.6 13.3M202.4 10.6L203.9 13.9M203.9 6.4H208.2V14.3L205.7 14.6M206.3 3.9L206 8.4Q205.7 12 203.3 14.8"/>
<!-- jiao -->
<path d="M215.3 3.9L216.5 5.5M210.1 6.4H221.9M213.6 8L211 10.7M218.3 8L220.9 10.7M218.5 10.4Q216 13.4 210.4 14.8M213.4 10.4Q216.4 13.4 221.7 14.8"/>
<!-- yi -->
<path d="M224 4.4H232.3V8.35H224ZM224 6.4H232.3M225.6 8.7L222.5 11.6M224.9 10H232.7V14.3L229.4 14.6M228.5 10.2L223.1 13.9M231.1 10.2L226.1 14.8"/>
</g>
<!-- chart type icons -->
<use href="#axes" x="257" y="4"/>
<path d="M265.5 6.2V14.6M265.5 7.5H268M265.5 13.4H263.2" fill="none" stroke="#0a8a12" stroke-width="1.5"/>
<use href="#axes" x="285" y="4"/>
<path d="M293.5 3.2V14.7" stroke="#0a8a12" stroke-width="1.2"/><rect x="291.4" y="5.6" width="4.3" height="7.2" fill="#3ee04a" stroke="#0a8a12" stroke-width="0.9"/>
<use href="#axes" x="313" y="4"/>
<path d="M314.3 13.7Q317.5 9 320 8.2Q321.8 8 325.8 12" fill="none" stroke="#2a9a32" stroke-width="1.2"/>
<!-- zoom in/out -->
<g>
<path d="M355 13.2L359.6 17.3" stroke="#a07808" stroke-width="3.2" stroke-linecap="round"/><path d="M355.2 13.4L359.4 17.1" stroke="#e8c020" stroke-width="1.8" stroke-linecap="round"/>
<circle cx="351" cy="9" r="5.4" fill="url(#glens)" stroke="#2a6fba" stroke-width="1.3"/>
<path d="M348 9H354M351 6V12" stroke="#3a86ae" stroke-width="1.7"/>
<path d="M383.2 13.2L387.8 17.3" stroke="#a07808" stroke-width="3.2" stroke-linecap="round"/><path d="M383.4 13.4L387.6 17.1" stroke="#e8c020" stroke-width="1.8" stroke-linecap="round"/>
<circle cx="379.2" cy="9" r="5.4" fill="url(#glens)" stroke="#2a6fba" stroke-width="1.3"/>
<path d="M376.2 9H382.2" stroke="#3a86ae" stroke-width="1.7"/>
</g>
<!-- tile -->
<g>
<rect x="401" y="3" width="8" height="8" fill="#3a9a1a"/><rect x="409" y="3" width="8" height="8" fill="#1a50c8"/>
<rect x="401" y="11" width="8" height="8" fill="#1a50c8"/><rect x="409" y="11" width="8" height="8" fill="#3a9a1a"/>
<g fill="#fff"><path d="M402.3 6h5.6v4.2h-1v-1h-3.6v1h-1z"/><path d="M410.3 6h5.6v4.2h-1v-1h-3.6v1h-1z"/><path d="M402.3 14h5.6v4.2h-1v-1h-3.6v1h-1z"/><path d="M410.3 14h5.6v4.2h-1v-1h-3.6v1h-1z"/></g>
<g fill="#fff" opacity="0.8"><rect x="402" y="4" width="1" height="1"/><rect x="410" y="4" width="1" height="1"/><rect x="402" y="12" width="1" height="1"/><rect x="410" y="12" width="1" height="1"/></g>
<path d="M403.4 7.4h3.4M411.4 15.4h3.4" stroke="#9ad07a" stroke-width="0.8"/><path d="M411.4 7.4h1.2M413.6 7.4h1.2M403.4 15.4h1.2M405.6 15.4h1.2" stroke="#8aa8ea" stroke-width="0.8"/>
</g>
<!-- autoscroll / shift -->
<use href="#axes" x="437" y="4"/>
<path d="M444.6 7.4L447.8 10.5L444.6 13.6Z" fill="#7be07b" stroke="#0a9a14" stroke-width="1"/>
<use href="#axes" x="465" y="4"/>
<path d="M473.5 5.2V15" stroke="#1a6aa8" stroke-width="1.2"/><path d="M479 10.4H475.6M477 8.6L474.9 10.4L477 12.2" fill="none" stroke="#d85a10" stroke-width="1.2"/>
<!-- new doc plus -->
<g>
<path d="M498.6 4.2q0-0.8 0.8-0.8h6l4 3.8v8.6q0 0.8-0.8 0.8h-9.2q-0.8 0-0.8-0.8z" fill="#fff" stroke="#8a8a8a" stroke-width="1"/>
<path d="M505.4 3.4v3.8h4" fill="#ececec" stroke="#8a8a8a" stroke-width="0.8"/>
<path d="M503 6q-1.6 0.4-1.6 2.2v4.6M501.4 9.6h1.8" fill="none" stroke="#5a5a48" stroke-width="0.9"/>
<path d="M506.3 9.2h3.8v3.8h3.8v3.8h-3.8v3.8h-3.8v-3.8h-3.8v-3.8h3.8z" fill="url(#gpl)" stroke="#0a8a12" stroke-width="0.7"/>
</g>
<use href="#dd" x="519" y="10"/>
<!-- clock -->
<g>
<circle cx="544.2" cy="10.8" r="6.8" fill="#fff" stroke="url(#gclock)" stroke-width="2.7"/>
<circle cx="544.2" cy="10.8" r="5.2" fill="#f6f8fb" stroke="#c8d4e4" stroke-width="0.5"/>
<path d="M543.6 7.4V11H546.4" fill="none" stroke="#222" stroke-width="1.1"/>
<path d="M543.4 14.2h1.8" stroke="#5aa0e8" stroke-width="0.8"/>
</g>
<use href="#dd" x="559" y="10"/>
<!-- template -->
<g>
<rect x="575.4" y="4.3" width="15.4" height="13.4" fill="#fff" stroke="#3a78c4" stroke-width="1"/>
<rect x="575" y="4" width="16.2" height="2.6" fill="#4a8ad4"/><rect x="576" y="5" width="14" height="0.8" fill="#9cc4f0"/>
<path d="M575.4 11.4H590.8" stroke="#3a78c4" stroke-width="0.9"/>
<path d="M577.4 10L579.2 10L580.8 8.9L582.6 8L584.2 9.2L586 9.2L587.6 8.2L589.2 8.2" fill="none" stroke="#a02818" stroke-width="1.2"/>
<path d="M578 15.4L579.8 15.4L581.2 14.2L582.6 15.4L584.2 15.2L586 13.2L587.4 13.6L588.8 15.4" fill="none" stroke="#12922a" stroke-width="1.2"/>
</g>
<use href="#dd" x="598" y="10"/>
<!-- cursor -->
<path d="M627.2 4V14.8L629.9 12.3L632.1 17.9L634.1 17.1L631.9 11.7H635.1Z" fill="#505050"/>
<!-- crosshair -->
<path d="M659.5 4V10M659.5 13V18.9M652 11.5H658M661 11.5H667" stroke="#505050" stroke-width="1.2" shape-rendering="crispEdges"/>
<rect x="659" y="11" width="1" height="1" fill="#a89858"/>
<!-- vline hline trend -->
<path d="M693.5 5.2V17.6M716 11.5H728" stroke="#505050" stroke-width="1.3"/>
<path d="M743.8 17.8L756 6" stroke="#505050" stroke-width="1.2"/>
<!-- channel -->
<g stroke="#505050" fill="none">
<path d="M770 12.8L778 5.2M771.2 16.6L782.6 6.6M775 17.7L783.8 9.6" stroke-width="0.9"/>
<path d="M772.6 16.4L773.6 9.8L775.8 15.2L776.6 7.4L779 12.4L780.8 3.4L782.2 10.4" stroke-width="1.1"/>
</g>
<path d="M781.4 15.5h3.4M781.4 17.4h3M781.4 19.3h3.4M781.9 15.5v3.8" stroke="#333" stroke-width="1" fill="none"/>
<!-- fibo -->
<g stroke="#555" stroke-width="1" stroke-dasharray="1 1" shape-rendering="crispEdges">
<path d="M799 4.5H812.5M799 7.5H812.5M799 11.5H812.5M799 15.5H808.5"/>
</g>
<path d="M809.5 19.6V15.6H812.6M809.5 17.5H812.2" stroke="#333" stroke-width="1.1" fill="none"/>
<!-- A, T -->
<text x="829.3" y="15.9" font-size="12.6" fill="#555" stroke="#555" stroke-width="0.45">A</text>
<rect x="856.5" y="5.5" width="11" height="12" fill="none" stroke="#555" stroke-width="1" stroke-dasharray="1 1" shape-rendering="crispEdges"/>
<rect x="855.6" y="4.4" width="1.8" height="1.4" fill="#555"/>
<path d="M858 8.8H866M862 8.8V16" stroke="#555" stroke-width="1.6" fill="none"/>
<!-- arrows icon -->
<path d="M886.4 4.7L890.2 8.2L888.6 9.2H884.2L882.6 8.2Z M893.4 18.1L889.6 14.6L891.2 13.6H895.6L897.2 14.6Z" fill="#505050"/>
<path d="M885.6 12.6L887.6 14.4L891.8 9.2" fill="none" stroke="#505050" stroke-width="1.2"/>
<use href="#dd" x="904" y="10"/>
<!-- timeframes -->
<g font-size="10" fill="#3a3a3a" text-anchor="middle">
<text transform="translate(936.9,15) scale(0.928,1)">M1</text>
<text transform="translate(965.2,15) scale(0.928,1)">M5</text>
<text transform="translate(993.5,15) scale(0.928,1)">M15</text>
<text transform="translate(1021.4,15) scale(0.928,1)">M30</text>
<text transform="translate(1049.5,15) scale(0.928,1)">H1</text>
<text transform="translate(1076.7,15) scale(0.928,1)">H4</text>
<text transform="translate(1105.6,15) scale(0.928,1)">D1</text>
<text transform="translate(1134.2,15) scale(0.928,1)">W1</text>
<text transform="translate(1161.1,15) scale(0.928,1)">MN</text>
</g>
<!-- search -->
<path d="M1643.9 11.3L1639.4 15.6" stroke="#2a5ad0" stroke-width="2.7" stroke-linecap="round"/>
<path d="M1643.9 11.3L1639.4 15.6" stroke="#9ab4f0" stroke-width="0.9" stroke-dasharray="0.8 0.8"/>
<circle cx="1646.6" cy="8.5" r="3.8" fill="#f4f6ff" stroke="#2a5ad0" stroke-width="1.4"/>
<!-- chat + badge -->
<path d="M1663.2 12.6Q1663.2 8.2 1668.6 8.2Q1674.4 8.2 1674.4 12.6Q1674.4 16.8 1669 16.9L1667.4 17L1666 19.6L1665.6 16.6Q1663.2 15.6 1663.2 12.6Z" fill="#dcdce6" stroke="#9a9a9a" stroke-width="0.8"/>
<path d="M1664.4 18.6Q1669 19.6 1674.6 18.2" stroke="#cfcfcf" stroke-width="1.2" fill="none"/>
<circle cx="1677.4" cy="8.3" r="8.2" fill="url(#gred)"/>
<path d="M1676 4.2h2.1v7.5h1.4v1.3h-5.2v-1.3h1.7v-5.3l-1.7 0.9v-1.5z" fill="#fff"/>
</svg>

</body></html>
